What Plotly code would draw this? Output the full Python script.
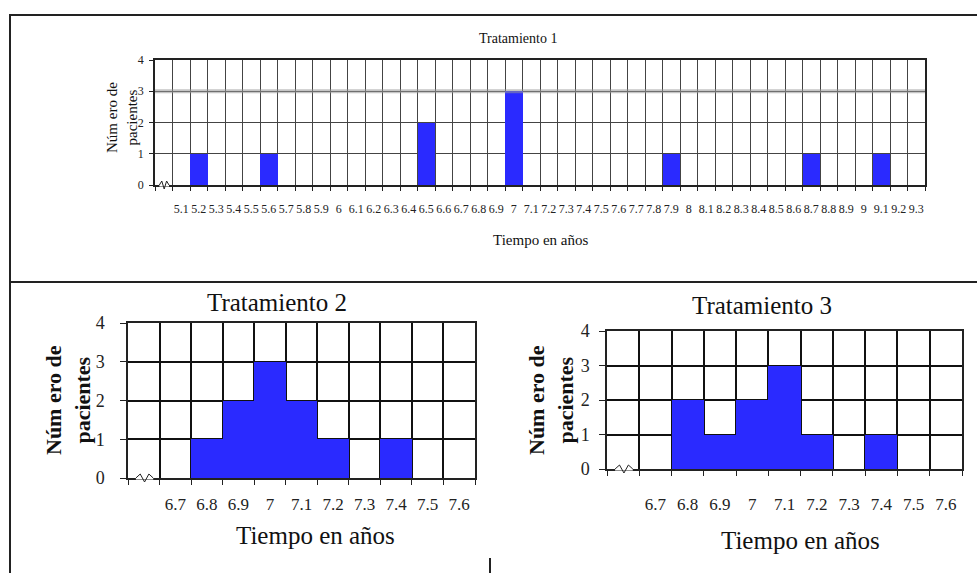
import plotly.graph_objects as go

W, H = 977, 573

# ---------------- data ----------------
t1_times = ["5.1", "5.2", "5.3", "5.4", "5.5", "5.6", "5.7", "5.8", "5.9",
            "6", "6.1", "6.2", "6.3", "6.4", "6.5", "6.6", "6.7", "6.8", "6.9",
            "7", "7.1", "7.2", "7.3", "7.4", "7.5", "7.6", "7.7", "7.8", "7.9",
            "8", "8.1", "8.2", "8.3", "8.4", "8.5", "8.6", "8.7", "8.8", "8.9",
            "9", "9.1", "9.2", "9.3"]
t1_counts = [0, 1, 0, 0, 0, 1, 0, 0, 0,
             0, 0, 0, 0, 0, 2, 0, 0, 0, 0,
             3, 0, 0, 0, 0, 0, 0, 0, 0, 1,
             0, 0, 0, 0, 0, 0, 0, 1, 0, 0,
             0, 1, 0, 0]

t23_times = ["6.7", "6.8", "6.9", "7", "7.1", "7.2", "7.3", "7.4", "7.5", "7.6"]
t2_counts = [0, 1, 2, 3, 2, 1, 0, 1, 0, 0]
t3_counts = [0, 2, 1, 2, 3, 1, 0, 1, 0, 0]

y_ticks = [0, 1, 2, 3, 4]

BLUE = "#2a2aff"
SERIF = "Liberation Serif, Times New Roman, serif"


def px(x):
    return x / W


def py(y):
    return 1 - y / H


fig = go.Figure()

panels = [
    # (times, counts, xaxis, yaxis, x0, x1, y_top, y_bottom, x_standoff, y_standoff)
    (t1_times, t1_counts, "x", "y", 155, 925, 60, 185, 12, 3),
    (t23_times, t2_counts, "x2", "y2", 128, 475, 323, 478, 10, 12),
    (t23_times, t3_counts, "x3", "y3", 607, 962, 331, 469, 19, 6),
]

shapes = []
annotations = []

for i, (times, counts, xa, ya, x0, x1, yt, yb, xso, yso) in enumerate(panels):
    cats = [" "] + times
    fig.add_trace(go.Bar(
        x=cats, y=[0] + counts, xaxis=xa, yaxis=ya,
        marker=dict(color=BLUE, line=dict(width=0)),
        width=1.0, showlegend=False, hoverinfo="x+y",
    ))
    top = (i == 0)
    xkey = "xaxis" if xa == "x" else "xaxis" + xa[1:]
    ykey = "yaxis" if ya == "y" else "yaxis" + ya[1:]
    grid_c = "#444444" if top else "#111111"
    grid_w = 1 if top else 1.5
    fig.layout[xkey] = dict(
        domain=[px(x0), px(x1)], anchor=ya, type="category",
        categoryorder="array", categoryarray=cats,
        range=[-0.5, len(cats) - 0.5],
        tickson="boundaries", ticks="outside", ticklen=4 if top else 5,
        tickcolor="#222", showgrid=True, gridcolor=grid_c, gridwidth=grid_w,
        showline=True, mirror=True, linecolor="#222", linewidth=1.5,
        tickangle=0, fixedrange=True, automargin=False,
        ticklabelstandoff=xso,
        tickfont=dict(family=SERIF, size=12 if top else 17, color="#222"),
    )
    fig.layout[ykey] = dict(
        domain=[py(yb), py(yt)], anchor=xa, range=[0, 4],
        tickvals=y_ticks, ticktext=[str(v) for v in y_ticks],
        ticks="outside", ticklen=4 if top else 6, tickcolor="#222",
        showgrid=True, gridcolor=grid_c, gridwidth=grid_w,
        showline=True, mirror=True, linecolor="#222", linewidth=1.5,
        zeroline=False, fixedrange=True, automargin=False,
        ticklabelstandoff=yso,
        tickfont=dict(family=SERIF, size=12 if top else 18, color="#222"),
    )
    # broken-axis zigzag in the first (blank) column
    colw = (x1 - x0) / len(cats)
    zx0 = x0 + colw * 0.25
    zx1 = x0 + colw * 0.8
    shapes.append(dict(type="line", xref="paper", yref="paper",
                       x0=px(zx0), x1=px(zx1), y0=py(yb), y1=py(yb),
                       line=dict(color="white", width=3)))
    zz = (zx1 - zx0) / 4
    amp = 4
    path = "M {},{} L {},{} L {},{} L {},{} L {},{}".format(
        px(zx0), py(yb), px(zx0 + zz), py(yb - amp), px(zx0 + 2 * zz), py(yb + amp),
        px(zx0 + 3 * zz), py(yb - amp), px(zx1), py(yb))
    shapes.append(dict(type="path", xref="paper", yref="paper", path=path,
                       line=dict(color="#222", width=1)))

# thick gray band at 3 in top chart
shapes.append(dict(type="line", xref="x domain", yref="y", x0=0, x1=1, y0=3, y1=3,
                   line=dict(color="rgba(150,150,150,0.55)", width=4), layer="above"))

# frame lines
for (a, b, c, d) in [(9, 15, 977, 15), (10, 15, 10, 573), (10, 282, 977, 282), (490, 558, 490, 573)]:
    shapes.append(dict(type="line", xref="paper", yref="paper",
                       x0=px(a), y0=py(b), x1=px(c), y1=py(d),
                       line=dict(color="#222", width=2)))

# titles and axis titles
def ann(text, x, y, size, angle=0, bold=False):
    annotations.append(dict(
        text=("<b>%s</b>" % text) if bold else text, x=px(x), y=py(y),
        xref="paper", yref="paper", showarrow=False, textangle=angle,
        xanchor="center", yanchor="middle",
        font=dict(family=SERIF, size=size, color="#111")))

ann("Tratamiento 1", 518, 38, 14)
ann("Tiempo en años", 540, 240, 15)
ann("Núm ero de<br>pacientes", 122, 118, 15, angle=-90)

ann("Tratamiento 2", 277, 303, 25)
ann("Tiempo en años", 315, 535, 25)
ann("Núm ero de<br>pacientes", 68, 400, 22, angle=-90, bold=True)

ann("Tratamiento 3", 762, 305, 25)
ann("Tiempo en años", 800, 540, 25)
ann("Núm ero de<br>pacientes", 551, 400, 22, angle=-90, bold=True)

fig.update_layout(
    width=W, height=H, margin=dict(l=0, r=0, t=0, b=0, pad=0),
    autosize=False,
    paper_bgcolor="white", plot_bgcolor="white",
    bargap=0, shapes=shapes, annotations=annotations,
    showlegend=False,
)

fig.write_html(
    "out.html",
    config={"displayModeBar": False, "responsive": False},
    post_script="document.body.style.margin='0';document.body.style.padding='0';"
                "document.body.style.overflow='hidden';",
)
